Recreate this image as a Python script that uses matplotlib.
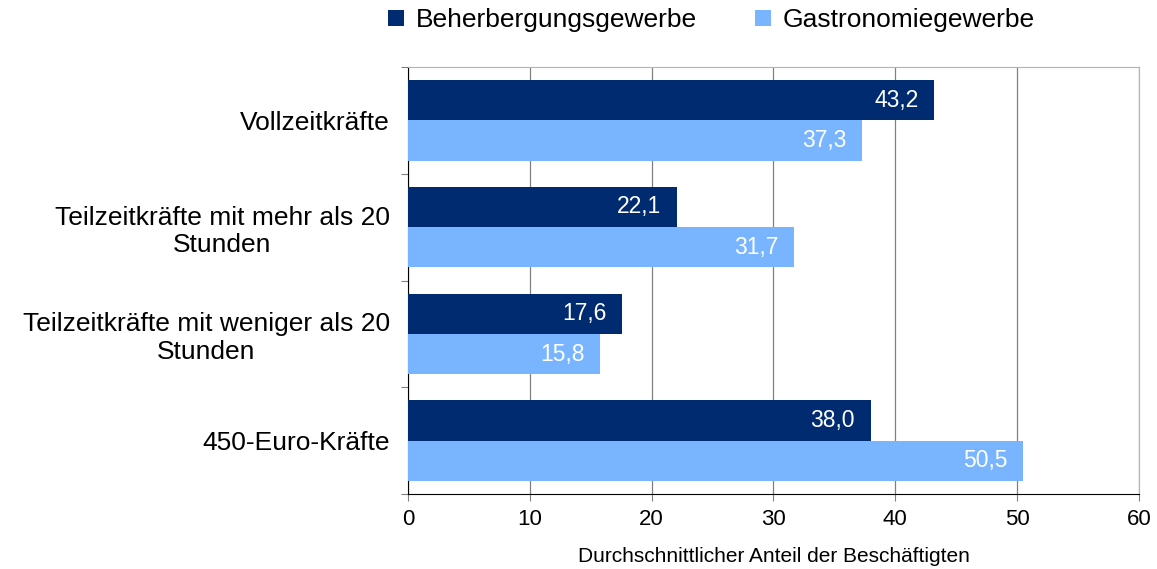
import numpy as np
import matplotlib.pyplot as plt

categories = ['Vollzeitkräfte', 'Teilzeitkräfte mit mehr als 20\nStunden',
              'Teilzeitkräfte mit weniger als 20\nStunden', '450-Euro-Kräfte']
beherbergung = [43.2, 22.1, 17.6, 38.0]
gastronomie = [37.3, 31.7, 15.8, 50.5]
series_names = ['Beherbergungsgewerbe', 'Gastronomiegewerbe']

dark = '#002b70'
light = '#78b4ff'

plt.rcParams['font.family'] = ['Liberation Sans', 'DejaVu Sans']

fig = plt.figure(figsize=(11.57, 5.69), dpi=100)
ax = fig.add_axes([0.3526, 0.1318, 0.6318, 0.7504])

n = len(categories)
y = np.arange(n)
h = 0.378
b1 = ax.barh(y - h / 2, beherbergung, height=h, color=dark, label=series_names[0], zorder=3)
b2 = ax.barh(y + h / 2, gastronomie, height=h, color=light, label=series_names[1], zorder=3)

for bars, vals in ((b1, beherbergung), (b2, gastronomie)):
    for rect, v in zip(bars, vals):
        ax.text(v - 1.3, rect.get_y() + rect.get_height() / 2, f'{v:.1f}'.replace('.', ','),
                ha='right', va='center', color='white', fontsize=16.5, zorder=4)

ax.set_xlim(0, 60)
ax.set_ylim(n - 0.5, -0.5)
ax.set_xticks(range(0, 61, 10))
ax.tick_params(axis='x', labelsize=16, length=5, direction='out', color='#808080', pad=6)
ax.set_yticks(np.arange(-0.5, n, 1))
ax.set_yticklabels([])
ax.set_yticks(y, minor=True)
ax.set_yticklabels(categories, minor=True, fontsize=19, ha='right', multialignment='center')
ax.tick_params(axis='y', which='minor', length=0, pad=13)
ax.tick_params(axis='y', which='major', length=5, color='#808080')

ax.grid(axis='x', color='#808080', linewidth=0.9, zorder=0)
for s in ['top', 'right']:
    ax.spines[s].set_color('#b3b3b3')
ax.spines['left'].set_color('#000000')
ax.spines['bottom'].set_color('#000000')

ax.set_xlabel('Durchschnittlicher Anteil der Beschäftigten', fontsize=15, labelpad=12)

fig.legend(handles=[b1, b2], loc='upper center', bbox_to_anchor=(0.615, 1.027), ncol=2,
           frameon=False, fontsize=19, handlelength=0.6, handleheight=0.6,
           columnspacing=2.2, handletextpad=0.45)

fig.savefig('out.png', dpi=100)
